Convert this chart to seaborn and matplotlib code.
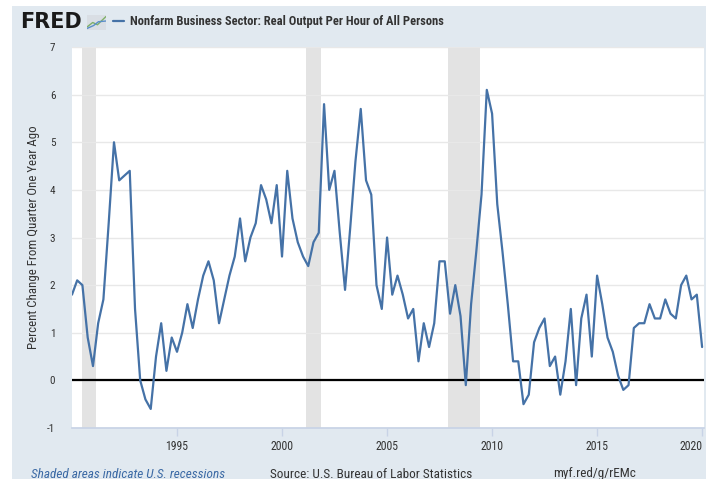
import numpy as np
import pandas as pd
import matplotlib
matplotlib.use("Agg")
import matplotlib.pyplot as plt
from matplotlib import font_manager
import seaborn as sns

# ---- data (quarterly, % change from quarter one year ago) ----
start_date = "1990-01-01"
values = [
    1.8, 2.1, 2.0, 0.9, 0.3, 1.2, 1.7, 3.3, 5.0, 4.2,
    4.3, 4.4, 1.5, 0.0, -0.4, -0.6, 0.5, 1.2, 0.2, 0.9,
    0.6, 1.0, 1.6, 1.1, 1.7, 2.2, 2.5, 2.1, 1.2, 1.7,
    2.2, 2.6, 3.4, 2.5, 3.0, 3.3, 4.1, 3.8, 3.3, 4.1,
    2.6, 4.4, 3.4, 2.9, 2.6, 2.4, 2.9, 3.1, 5.8, 4.0,
    4.4, 3.1, 1.9, 3.2, 4.6, 5.7, 4.2, 3.9, 2.0, 1.5,
    3.0, 1.8, 2.2, 1.8, 1.3, 1.5, 0.4, 1.2, 0.7, 1.2,
    2.5, 2.5, 1.4, 2.0, 1.35, -0.1, 1.6, 2.7, 3.9, 6.1,
    5.6, 3.7, 2.7, 1.6, 0.4, 0.4, -0.5, -0.3, 0.8, 1.1,
    1.3, 0.3, 0.5, -0.3, 0.4, 1.5, -0.1, 1.3, 1.8, 0.5,
    2.2, 1.6, 0.9, 0.6, 0.1, -0.2, -0.1, 1.1, 1.2, 1.2,
    1.6, 1.3, 1.3, 1.7, 1.4, 1.3, 2.0, 2.2, 1.7, 1.8,
    0.7,
]
recession_starts = ["1990-07-01", "2001-03-01", "2007-12-01"]
recession_ends = ["1991-03-01", "2001-11-01", "2009-06-01"]
y_ticks = [-1, 0, 1, 2, 3, 4, 5, 6, 7]
x_tick_years = [1995, 2000, 2005, 2010, 2015, 2020]

title_text = "Nonfarm Business Sector: Real Output Per Hour of All Persons"
ylabel_text = "Percent Change From Quarter One Year Ago"
note_text = "Shaded areas indicate U.S. recessions"
source_text = "Source: U.S. Bureau of Labor Statistics"
url_text = "myf.red/g/rEMc"

dates = pd.date_range(start_date, periods=len(values), freq="QS")
df = pd.DataFrame({"date": dates, "value": values})

# ---- fonts ----
available = {f.name for f in font_manager.fontManager.ttflist}
narrow = None
for cand in ["Liberation Sans Narrow", "Roboto Condensed", "DejaVu Sans"]:
    if cand in available:
        narrow = cand
        break

sns.set_theme(style="white")
plt.rcParams["font.family"] = [narrow, "DejaVu Sans"]

bg = "#e1e9f0"
W, H = 706, 479
fig = plt.figure(figsize=(7.06, 4.79), dpi=100, facecolor="white")
fig.patches.append(plt.Rectangle((12 / W, 0), 1 - 12 / W, 1 - 6 / H, transform=fig.transFigure,
                                 facecolor=bg, edgecolor="none", zorder=-10))

ax = fig.add_axes([72 / W, (H - 428) / H, 632 / W, 381 / H])
ax.set_facecolor("white")

for s, e in zip(recession_starts, recession_ends):
    ax.axvspan(pd.Timestamp(s), pd.Timestamp(e), color="#e3e3e3", lw=0, zorder=0)

for yv in y_ticks:
    ax.axhline(yv, color="#e8e8e8", lw=1.0, zorder=0.5)
ax.axhline(0, color="black", lw=1.6, zorder=2)

sns.lineplot(data=df, x="date", y="value", ax=ax, color="#4572a7", lw=1.6, zorder=3)

ax.set_xlim(pd.Timestamp("1990-01-01"), pd.Timestamp("2020-02-03"))
ax.set_ylim(-1, 7)
ax.set_yticks(y_ticks)
ax.set_yticklabels([str(t) for t in y_ticks], fontsize=8, color="#333333")
ax.set_xticks([pd.Timestamp(f"{y}-01-01") for y in x_tick_years])
ax.set_xticklabels([str(y) for y in x_tick_years], fontsize=8.5, color="#333333")
ax.tick_params(axis="x", length=6, color="#c8d3e6", width=1, pad=3, direction="out", bottom=True)
ax.tick_params(axis="y", length=0, pad=12)
ax.get_xticklabels()[-1].set_horizontalalignment("right")
for sp in ["top", "right", "left"]:
    ax.spines[sp].set_visible(False)
ax.spines["bottom"].set_color("#c8d3e6")
ax.set_xlabel("")
ax.set_ylabel(ylabel_text, fontsize=9.3, color="#333333", labelpad=5)
ax.grid(False)

# ---- header ----
fig.text(20 / W, 1 - 28.5 / H, "FRED", fontsize=15, fontweight="bold", color="#1a1a1a",
         family="DejaVu Sans", ha="left", va="baseline")
icon = fig.add_axes([87 / W, 1 - 30 / H, 19 / W, 15 / H])
icon.set_facecolor("#d9dee4")
icon.plot([0, 0.3, 0.55, 1], [0.2, 0.5, 0.35, 0.9], color="#7fb069", lw=1)
icon.plot([0, 0.35, 0.6, 1], [0.1, 0.3, 0.55, 0.6], color="#5a8fc9", lw=1)
icon.set_xlim(0, 1); icon.set_ylim(0, 1)
icon.set_xticks([]); icon.set_yticks([])
for sp in icon.spines.values():
    sp.set_visible(False)
fig.add_artist(plt.Line2D([113 / W, 124 / W], [1 - 21 / H, 1 - 21 / H], color="#4572a7", lw=1.6))
fig.text(130 / W, 1 - 21 / H, title_text, fontsize=9.0, fontweight="bold", color="#333333",
         ha="left", va="center")

# ---- footer ----
fig.text(31 / W, 1 - 474 / H, note_text, fontsize=9.5, style="italic", color="#3c6aa5",
         ha="left", va="center")
fig.text(270 / W, 1 - 474 / H, source_text, fontsize=9.5, color="#333333", ha="left", va="center")
fig.text(553 / W, 1 - 474 / H, url_text, fontsize=9.5, color="#333333", ha="left", va="center")

fig.savefig("out.png", dpi=100, facecolor="white")
